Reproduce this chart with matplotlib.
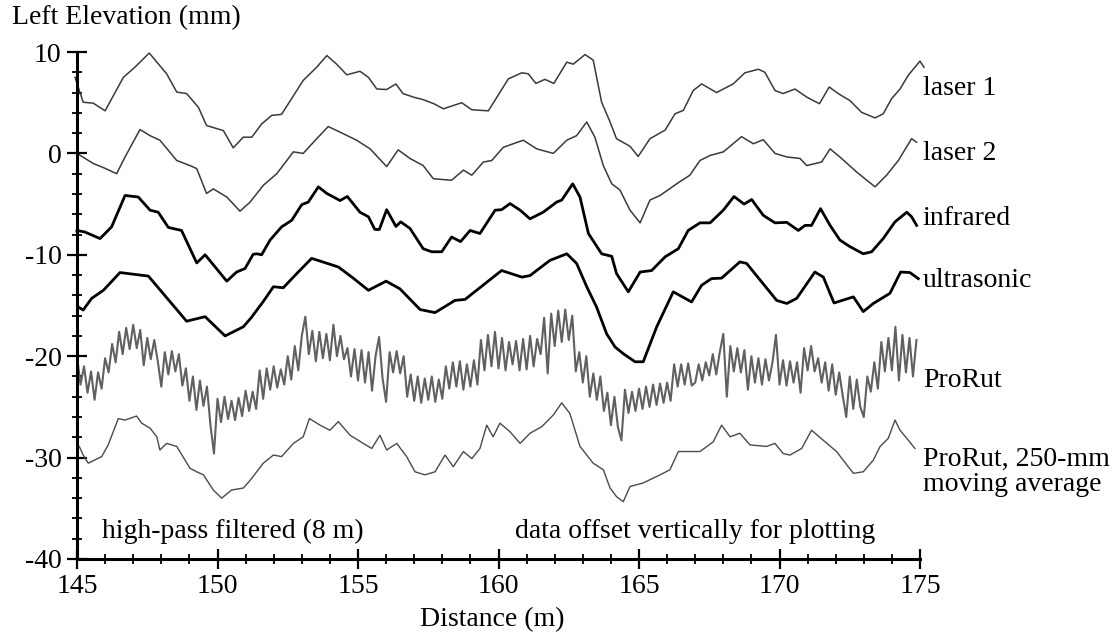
import numpy as np
import matplotlib
matplotlib.use("Agg")
import matplotlib.pyplot as plt
from matplotlib.ticker import MultipleLocator

plt.rcParams['font.family'] = ['Liberation Serif', 'DejaVu Serif']
plt.rcParams['axes.unicode_minus'] = False

# values (distance in m, elevation in mm, already offset)
laser1_x = [144.93, 145.0, 145.22, 145.58, 146.0, 146.65, 147.06, 147.57, 148.19, 148.55, 148.9,
            149.32, 149.61, 150.21, 150.56, 150.92, 151.22, 151.57, 151.93, 152.28, 153.05,
            153.53, 153.89, 154.24, 154.6, 155.07, 155.37, 155.67, 156.02, 156.35, 156.6,
            156.97, 157.32, 157.7, 158.04, 158.69, 159.05, 159.64, 160.35, 160.83, 161.06,
            161.33, 161.65, 161.97, 162.43, 162.66, 163.08, 163.37, 163.67, 163.97, 164.2,
            164.68, 164.97, 165.39, 165.93, 166.28, 166.58, 166.93, 167.23, 167.76, 168.35,
            168.77, 169.25, 169.48, 169.84, 170.13, 170.55, 170.97, 171.42, 171.77, 172.09,
            172.51, 172.92, 173.4, 173.69, 173.99, 174.29, 174.58, 175.0, 175.14]
laser1_y = [7.5, 6.9, 5.05, 4.95, 4.2, 7.5, 8.5, 9.9, 7.85, 6.05, 5.9,
            4.55, 2.75, 2.25, 0.55, 1.6, 1.6, 2.9, 3.75, 3.85, 7.2,
            8.5, 9.65, 8.8, 7.75, 8.1, 7.5, 6.35, 6.3, 6.85, 5.9,
            5.55, 5.3, 4.9, 4.4, 5.0, 4.3, 4.2, 7.35, 7.95, 7.85,
            6.9, 7.3, 6.9, 9.0, 8.8, 9.75, 9.2, 5.05, 3.1, 1.45,
            0.7, -0.3, 1.45, 2.3, 3.9, 4.25, 6.2, 6.85, 6.0, 6.85,
            7.95, 8.3, 8.0, 6.2, 5.9, 6.35, 5.55, 4.9, 6.55, 5.9,
            5.2, 4.05, 3.5, 3.9, 5.4, 6.35, 7.7, 9.1, 8.5]

laser2_x = [145.0, 145.58, 145.94, 146.41, 146.71, 147.24, 147.6, 147.95, 148.55, 149.02,
            149.26, 149.61, 149.85, 150.33, 150.8, 151.16, 151.63, 152.11, 152.7, 153.05,
            153.53, 153.94, 154.36, 154.95, 155.43, 156.02, 156.43, 156.85, 157.32, 157.68,
            158.33, 158.75, 159.05, 159.46, 159.76, 160.17, 160.88, 161.36, 161.95, 162.43,
            162.78, 163.14, 163.43, 163.73, 164.03, 164.32, 164.68, 165.04, 165.39, 165.75,
            166.34, 166.81, 167.17, 167.53, 168.0, 168.65, 169.07, 169.42, 169.84, 170.26,
            170.73, 170.97, 171.5, 171.8, 172.21, 172.75, 173.4, 173.81, 174.23, 174.7, 174.88]
laser2_y = [0.0, -1.0, -1.4, -2.0, -0.35, 2.35, 1.75, 1.3, -0.7, -1.2,
            -1.5, -3.95, -3.5, -4.3, -5.7, -4.8, -3.15, -2.0, 0.15, 0.0,
            1.45, 2.65, 2.1, 1.3, 0.45, -1.3, 0.35, -0.5, -1.2, -2.5,
            -2.65, -1.65, -2.15, -0.85, -0.7, 0.6, 1.3, 0.45, 0.0, 1.3,
            1.75, 3.1, 1.6, -1.2, -3.0, -3.6, -5.6, -6.85, -4.6, -4.15,
            -3.0, -2.15, -0.7, -0.2, 0.15, 1.65, 0.95, 1.35, 0.0, -0.35,
            -0.5, -1.2, -0.85, 0.45, -0.5, -1.85, -3.3, -2.15, -0.7, 1.45, 1.1]

infrared_x = [145.0, 145.28, 145.82, 146.23, 146.71, 147.18, 147.6, 147.89, 148.25, 148.72,
              149.26, 149.56, 150.33, 150.68, 150.98, 151.27, 151.4, 151.57, 151.87, 152.28,
              152.64, 153.0, 153.23, 153.59, 153.89, 154.36, 154.62, 155.07, 155.37, 155.6,
              155.76, 156.02, 156.35, 156.52, 156.85, 157.32, 157.62, 157.98, 158.33, 158.65,
              158.99, 159.34, 159.88, 160.11, 160.41, 160.77, 161.12, 161.59, 162.07, 162.25,
              162.64, 162.9, 163.2, 163.67, 164.03, 164.2, 164.62, 165.04, 165.45, 165.93,
              166.4, 166.75, 167.17, 167.53, 168.0, 168.38, 168.74, 169.01, 169.42, 169.84,
              170.26, 170.67, 170.91, 171.14, 171.46, 171.8, 172.15, 172.51, 172.98, 173.28,
              173.69, 174.11, 174.53, 174.7, 174.88]
infrared_y = [-7.6, -7.75, -8.4, -7.25, -4.15, -4.3, -5.6, -5.8, -7.3, -7.6,
              -10.8, -10.0, -12.6, -11.7, -11.35, -9.95, -9.9, -10.0, -8.55, -7.25,
              -6.6, -5.05, -4.8, -3.3, -3.95, -4.65, -4.25, -5.8, -6.25, -7.5,
              -7.5, -5.55, -7.2, -6.75, -7.4, -9.4, -9.7, -9.7, -8.25, -8.7,
              -7.6, -7.9, -5.6, -5.55, -4.95, -5.6, -6.45, -5.8, -4.8, -4.6,
              -3.0, -4.3, -7.9, -9.9, -10.15, -11.85, -13.65, -11.7, -11.55, -10.2,
              -9.4, -7.6, -6.85, -6.85, -5.6, -4.25, -5.0, -4.55, -6.1, -6.85,
              -6.8, -7.6, -7.1, -7.1, -5.45, -7.1, -8.55, -9.2, -9.9, -9.7,
              -8.4, -6.75, -5.8, -6.25, -7.1]

ultrasonic_x = [145.05, 145.22, 145.52, 145.94, 146.53, 147.54, 148.9, 149.56, 150.27, 150.92,
                151.2, 151.63, 151.99, 152.34, 152.82, 153.35, 154.3, 154.83, 155.37, 156.0,
                156.49, 157.21, 157.74, 157.92, 158.45, 158.81, 160.11, 160.83, 161.12, 161.83,
                162.43, 162.78, 163.14, 163.49, 163.85, 164.15, 164.44, 164.86, 165.15, 165.63,
                166.22, 166.87, 167.23, 167.58, 167.94, 168.59, 168.83, 169.9, 170.26, 170.61,
                171.26, 171.56, 171.94, 172.63, 172.98, 173.34, 173.93, 174.31, 174.64, 174.94]
ultrasonic_y = [-15.15, -15.45, -14.3, -13.5, -11.75, -12.1, -16.55, -16.1, -18.0, -17.1,
                -16.2, -14.6, -13.15, -13.25, -11.85, -10.35, -11.2, -12.3, -13.5, -12.6,
                -13.35, -15.4, -15.7, -15.4, -14.5, -14.4, -11.55, -12.2, -12.05, -10.55,
                -9.9, -10.85, -13.15, -15.15, -17.8, -19.1, -19.75, -20.55, -20.55, -17.1,
                -13.65, -14.65, -13.0, -12.35, -12.3, -10.7, -10.85, -14.5, -14.8, -14.3,
                -11.7, -12.2, -14.75, -14.15, -15.6, -14.8, -13.8, -11.7, -11.75, -12.35]

# ProRut raw profile, sampled every 125 mm starting at 145 m
prorut_y = [
    -20.0, -22.8, -21.0, -23.6, -21.5, -24.3, -21.6, -23.2,
    -20.2, -21.6, -18.8, -20.6, -17.6, -19.8, -17.2, -19.3,
    -16.9, -19.2, -17.4, -20.9, -18.2, -20.3, -18.4, -20.5,
    -23.0, -19.6, -21.8, -19.5, -21.5, -19.8, -22.9, -21.2,
    -24.4, -22.0, -25.3, -22.4, -24.9, -23.0, -26.8, -29.6,
    -24.2, -26.5, -24.0, -26.2, -24.4, -26.3, -24.1, -25.9,
    -23.4, -25.4, -23.5, -25.2, -21.4, -24.2, -21.2, -23.3,
    -21.0, -23.1, -21.3, -22.8, -20.0, -22.3, -19.0, -21.4,
    -18.0, -16.1, -19.8, -17.5, -20.5, -17.6, -20.2, -17.8,
    -20.4, -16.9, -20.0, -18.0, -20.3, -19.2, -22.0, -19.3,
    -22.4, -19.4, -22.6, -19.6, -23.4, -20.0, -18.1, -22.2,
    -24.5, -19.6, -21.6, -19.5, -21.7, -20.0, -24.0, -21.8,
    -24.4, -22.0, -24.6, -22.2, -24.3, -22.0, -24.5, -22.3,
    -24.2, -21.0, -23.2, -20.6, -23.0, -20.5, -23.3, -20.8,
    -23.0, -20.4, -22.8, -18.4, -21.4, -17.9, -21.0, -17.6,
    -21.2, -18.2, -21.4, -18.6, -20.8, -18.5, -21.4, -18.3,
    -21.3, -18.0, -21.0, -18.3, -19.8, -16.2, -21.7, -15.8,
    -19.0, -15.5, -18.6, -15.4, -18.4, -16.0, -21.5, -19.6,
    -22.6, -20.0, -24.0, -21.7, -24.3, -22.0, -25.4, -23.6,
    -26.8, -24.0, -27.0, -28.3, -23.3, -25.6, -23.5, -25.4,
    -23.2, -25.2, -23.0, -25.0, -22.8, -24.8, -22.7, -24.6,
    -22.6, -24.4, -20.8, -23.0, -20.8, -22.8, -20.7, -22.9,
    -22.6, -20.8, -22.4, -20.6, -21.9, -19.8, -21.8, -19.6,
    -17.8, -24.0, -19.0, -21.5, -19.2, -21.6, -19.4, -23.3,
    -20.0, -22.6, -20.2, -22.8, -20.3, -22.4, -20.6, -17.9,
    -22.8, -20.4, -22.9, -20.5, -22.6, -20.6, -23.6, -19.2,
    -21.4, -19.0, -21.5, -20.2, -22.6, -20.6, -23.4, -20.8,
    -23.8, -21.6, -23.9, -26.0, -22.0, -25.2, -22.3, -25.0,
    -26.0, -22.0, -23.5, -20.6, -23.2, -18.6, -21.5, -18.2,
    -21.4, -17.1, -22.4, -17.9, -21.6, -18.2, -22.0, -18.4]
prorut_x = 145 + 0.125 * np.arange(len(prorut_y))

avg_x = [145.08, 145.22, 145.4, 145.88, 146.11, 146.47, 146.71, 147.12, 147.3, 147.6,
         147.84, 147.95, 148.19, 148.55, 149.02, 149.26, 149.5, 149.85, 150.15, 150.5,
         150.92, 151.16, 151.63, 151.99, 152.28, 152.7, 153.05, 153.27, 153.65, 154.0,
         154.3, 154.72, 155.19, 155.49, 155.78, 156.02, 156.38, 156.73, 157.03, 157.38,
         157.74, 158.1, 158.39, 158.75, 159.05, 159.34, 159.58, 159.81, 160.05, 160.41,
         160.77, 161.12, 161.54, 161.95, 162.25, 162.54, 162.9, 163.37, 163.73, 163.97,
         164.2, 164.44, 164.68, 165.15, 165.75, 166.1, 166.4, 167.17, 167.64, 167.94,
         168.24, 168.59, 168.95, 169.54, 169.84, 170.13, 170.37, 170.79, 171.14, 171.56,
         172.03, 172.39, 172.63, 172.98, 173.34, 173.58, 173.87, 174.11, 174.29, 174.53, 174.82]
avg_y = [-28.9, -29.75, -30.55, -29.9, -28.75, -26.15, -26.3, -25.9, -26.6, -27.1,
         -27.95, -29.25, -28.6, -28.9, -31.05, -31.4, -31.7, -33.2, -34.0, -33.2,
         -33.0, -32.25, -30.55, -29.75, -29.9, -28.6, -27.95, -26.15, -26.8, -27.3,
         -26.45, -27.8, -28.6, -29.1, -27.8, -29.25, -28.6, -29.9, -31.4, -31.7,
         -31.4, -29.75, -30.9, -29.4, -30.1, -29.1, -26.8, -27.95, -26.6, -27.45,
         -28.6, -27.6, -26.95, -25.8, -24.6, -25.65, -28.9, -30.55, -31.2, -33.0,
         -33.85, -34.35, -32.85, -32.5, -31.7, -31.2, -29.4, -29.4, -28.45, -26.8,
         -27.95, -27.6, -28.75, -28.9, -28.6, -29.6, -29.75, -29.1, -27.3, -28.3,
         -29.4, -30.7, -31.55, -31.4, -30.25, -28.9, -28.1, -26.3, -27.3, -28.1, -29.1]

labels = ['laser 1', 'laser 2', 'infrared', 'ultrasonic', 'ProRut',
          'ProRut, 250-mm\nmoving average']
label_y = [6.4, 0.0, -6.4, -12.5, -22.4, -31.4]

fig = plt.figure(figsize=(11.14, 6.37), dpi=100)
ax = fig.add_axes([77 / 1114, 1 - 559 / 637, 843 / 1114, 507 / 637])

ax.plot(laser1_x, laser1_y, color='#3a3a3a', lw=1.1, clip_on=False)
ax.plot(laser2_x, laser2_y, color='#3a3a3a', lw=1.1, clip_on=False)
ax.plot(infrared_x, infrared_y, color='black', lw=2.0, clip_on=False)
ax.plot(ultrasonic_x, ultrasonic_y, color='black', lw=2.0, clip_on=False)
ax.plot(prorut_x, prorut_y, color='#606060', lw=1.5, clip_on=False)
ax.plot(avg_x, avg_y, color='#4a4a4a', lw=1.0, clip_on=False)

for lab, yy in zip(labels, label_y):
    ax.text(175.1, yy, lab, fontsize=20, va='center', ha='left', linespacing=1.0)

ax.text(145.9, -37.3, 'high-pass filtered (8 m)', fontsize=20, va='center')
ax.text(160.6, -37.3, 'data offset vertically for plotting', fontsize=20, va='center')

ax.set_xlim(145, 175)
ax.set_ylim(-40, 10)
ax.set_xticks(range(145, 176, 5))
ax.set_yticks(range(-40, 11, 10))
ax.xaxis.set_minor_locator(MultipleLocator(1))
ax.yaxis.set_minor_locator(MultipleLocator(2))
ax.tick_params(which='major', direction='inout', length=14, width=1.6, labelsize=20, pad=4)
ax.tick_params(which='minor', direction='inout', length=7, width=1.3)
ax.tick_params(axis='y', which='major', pad=4)

for s in ['top', 'right']:
    ax.spines[s].set_visible(False)
for s in ['left', 'bottom']:
    ax.spines[s].set_linewidth(2.2)

fig.text(12 / 1114, 1 - 18 / 637, 'Left Elevation (mm)', fontsize=20, va='center', ha='left')
fig.text(492 / 1114, 1 - 620 / 637, 'Distance (m)', fontsize=20, va='center', ha='center')

fig.savefig('out.png', dpi=100)
